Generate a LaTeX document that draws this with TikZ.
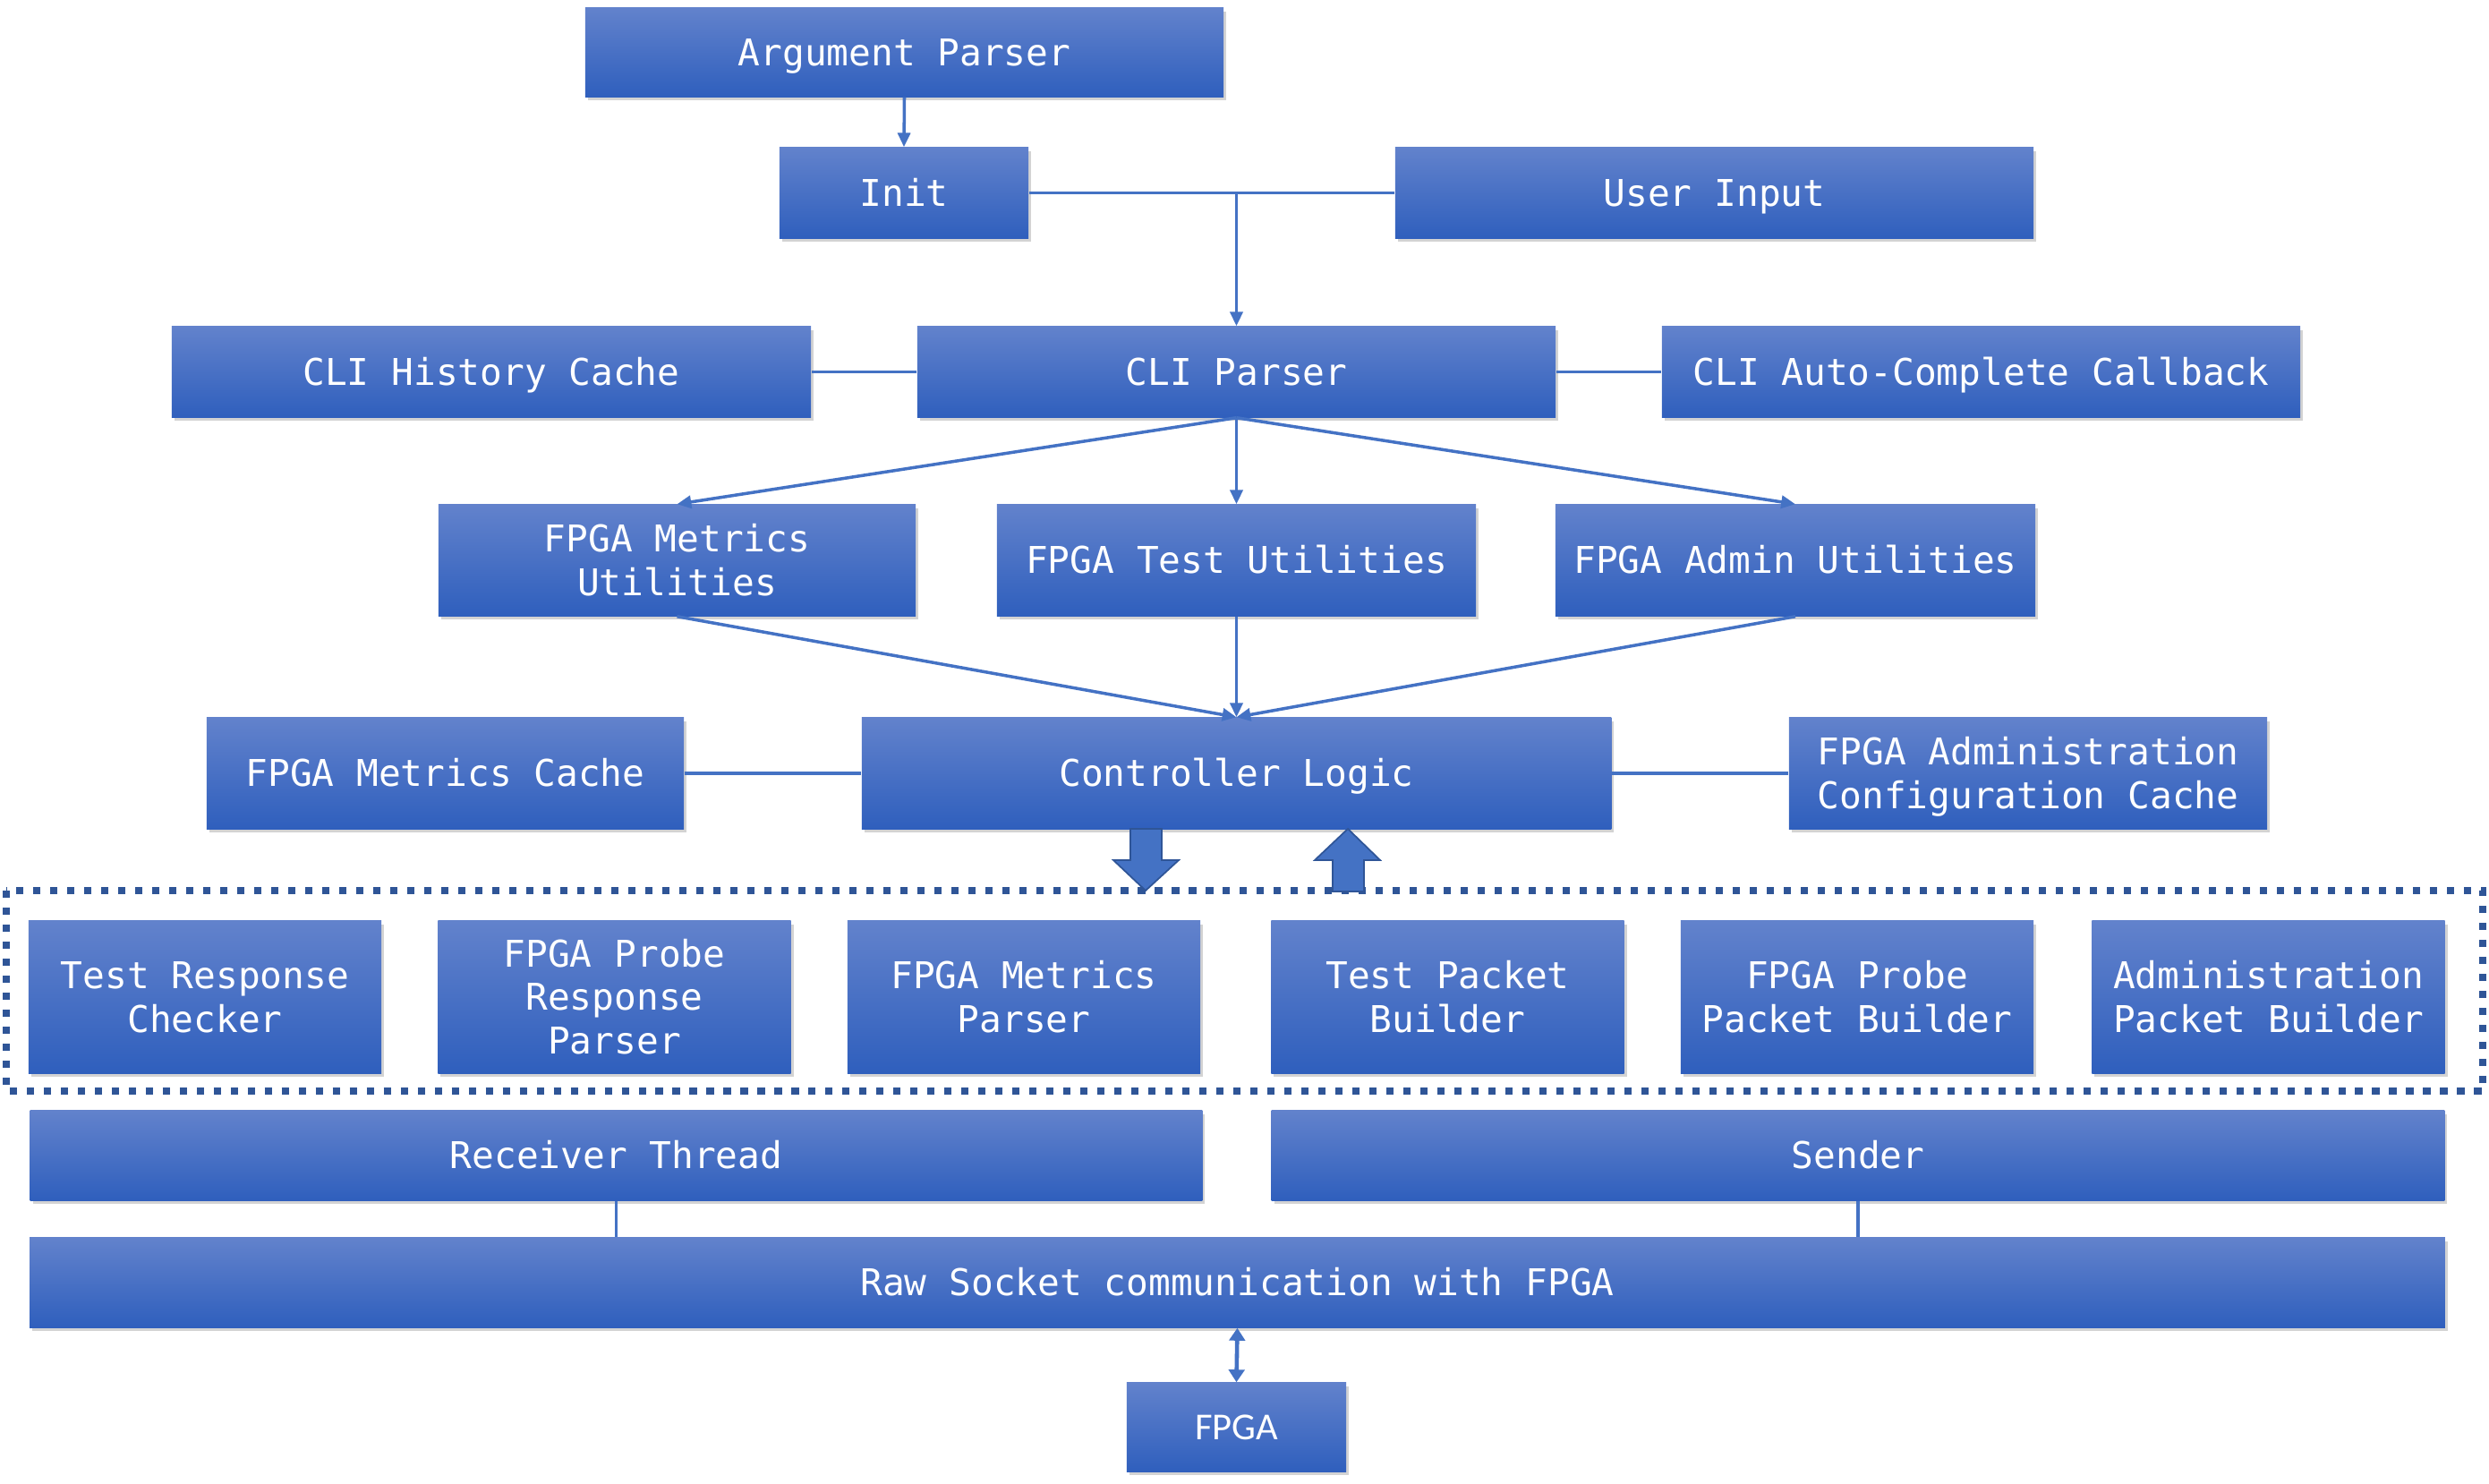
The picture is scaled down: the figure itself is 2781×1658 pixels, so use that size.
\documentclass[tikz,border=0pt]{standalone}
\usepackage{fontspec}
\newfontfamily\boxfont{DejaVu Sans Mono}
\newfontfamily\fpgafont{Carlito}
\usetikzlibrary{arrows.meta,shadows}
\definecolor{boxtop}{RGB}{98,130,204}
\definecolor{boxbot}{RGB}{47,95,189}
\definecolor{wire}{RGB}{68,114,196}
\definecolor{framec}{RGB}{47,85,151}
% stacked lines, baseline on the last one
\newcommand\stk[1]{\begin{tabular}[b]{@{}c@{}}#1\end{tabular}}
\tikzset{
  blk/.style={rectangle, inner sep=0pt, top color=boxtop, bottom color=boxbot,
    text=white, font=\boxfont\fontsize{11.7}{13.9}\selectfont,
    text height=9.7pt, text depth=1.2pt,
    drop shadow={shadow xshift=0.03cm, shadow yshift=-0.04cm, opacity=0.35}},
  blktwo/.style={blk, text height=23.6pt},
  blkthree/.style={blk, text height=37.5pt},
  wirel/.style={draw=wire, line width=1pt},
  arr/.style={wirel, -{Triangle[length=4.5pt,width=4pt]}},
}
\begin{document}
\begin{tikzpicture}[x=0.01cm, y=-0.01cm]
    \useasboundingbox (0,0) rectangle (2781,1658);
    % Top part: parser, init and input
    \node[blk, minimum width=7.13cm, minimum height=0.99cm] (argp) at (1010.5,58.5) {Argument Parser};
    \node[blk, minimum width=2.78cm, minimum height=1.01cm] (init) at (1010,215.5) {Init};
    \node[blk, minimum width=7.13cm, minimum height=1.01cm] (uinp) at (1915.5,215.5) {User Input};
    % CLI row
    \node[blk, minimum width=7.14cm, minimum height=1.01cm] (hist) at (549,415.5) {CLI History Cache};
    \node[blk, minimum width=7.13cm, minimum height=1.01cm] (cli) at (1381.5,415.5) {CLI Parser};
    \node[blk, minimum width=7.13cm, minimum height=1.01cm] (acomp) at (2213.5,415.5) {CLI Auto-Complete Callback};
    % Utilities
    \node[blktwo, minimum width=5.33cm, minimum height=1.24cm] (mutil) at (756.5,626) {\stk{FPGA Metrics\\Utilities}};
    \node[blk, minimum width=5.35cm, minimum height=1.24cm] (tutil) at (1381.5,626) {FPGA Test Utilities};
    \node[blk, minimum width=5.36cm, minimum height=1.24cm] (autil) at (2006,626) {FPGA Admin Utilities};
    % Controller and caches
    \node[blk, minimum width=5.33cm, minimum height=1.24cm] (mcache) at (497.5,864) {FPGA Metrics Cache};
    \node[blk, minimum width=8.37cm, minimum height=1.24cm] (ctrl) at (1381.5,864) {Controller Logic};
    \node[blktwo, minimum width=5.34cm, minimum height=1.24cm] (acache) at (2266,864) {\stk{FPGA Administration\\Configuration Cache}};
    % Packet layer
    \draw[framec, line width=0.08cm, dash pattern=on 2.3pt off 3.1pt] (7,995) rectangle (2774,1219);
    \node[blktwo, minimum width=3.94cm, minimum height=1.7cm] (tchk) at (229,1114) {\stk{Test Response\\Checker}};
    \node[blkthree, minimum width=3.94cm, minimum height=1.7cm] (prsp) at (686.5,1114) {\stk{FPGA Probe\\Response\\Parser}};
    \node[blktwo, minimum width=3.94cm, minimum height=1.7cm] (mpar) at (1144,1114) {\stk{FPGA Metrics\\Parser}};
    \node[blktwo, minimum width=3.94cm, minimum height=1.7cm] (tbld) at (1617.5,1114) {\stk{Test Packet\\Builder}};
    \node[blktwo, minimum width=3.94cm, minimum height=1.7cm] (pbld) at (2075,1114) {\stk{FPGA Probe\\Packet Builder}};
    \node[blktwo, minimum width=3.94cm, minimum height=1.7cm] (abld) at (2534.5,1114) {\stk{Administration\\Packet Builder}};
    % Transport
    \node[blk, minimum width=13.09cm, minimum height=1.0cm] (recv) at (688.5,1291) {Receiver Thread};
    \node[blk, minimum width=13.1cm, minimum height=1.0cm] (send) at (2076,1291) {Sender};
    \node[blk, minimum width=26.97cm, minimum height=1.0cm] (raw) at (1382.5,1433) {Raw Socket communication with FPGA};
    \node[blk, font=\fpgafont\fontsize{12.1}{14.5}\selectfont, text height=9pt, minimum width=2.45cm, minimum height=0.99cm] (fpga) at (1381.5,1594.5) {FPGA};
    % Connectors
    \draw[arr] (argp.south) -- (init.north);
    \coordinate (jn) at (cli.north |- init.east);
    \draw[wirel] (init.east) -- (uinp.west);
    \draw[arr] (jn) -- (cli.north);
    \draw[wirel] (hist.east) -- (cli.west);
    \draw[wirel] (cli.east) -- (acomp.west);
    \draw[arr] (cli.south) -- (mutil.north);
    \draw[arr] (cli.south) -- (tutil.north);
    \draw[arr] (cli.south) -- (autil.north);
    \draw[arr] (mutil.south) -- (ctrl.north);
    \draw[arr] (tutil.south) -- (ctrl.north);
    \draw[arr] (autil.south) -- (ctrl.north);
    \draw[wirel] (mcache.east) -- (ctrl.west);
    \draw[wirel] (ctrl.east) -- (acache.west);
    \draw[wirel] (recv.south) -- (recv.south |- raw.north);
    \draw[wirel] (send.south) -- (send.south |- raw.north);
    \draw[wirel, line width=1.3pt, {Triangle[length=4pt,width=5pt]}-{Triangle[length=4pt,width=5pt]}] (raw.south) -- (fpga.north);
    % Block arrows between controller and packet layer
    \filldraw[fill=wire, draw=framec, line width=0.5pt] (1263,926) -- (1298,926) -- (1298,961) -- (1317,961) -- (1280,995) -- (1244,961) -- (1263,961) -- cycle;
    \filldraw[fill=wire, draw=framec, line width=0.5pt] (1489,996) -- (1524,996) -- (1524,961) -- (1542,961) -- (1506,926) -- (1469,961) -- (1489,961) -- cycle;
\end{tikzpicture}
\end{document}
